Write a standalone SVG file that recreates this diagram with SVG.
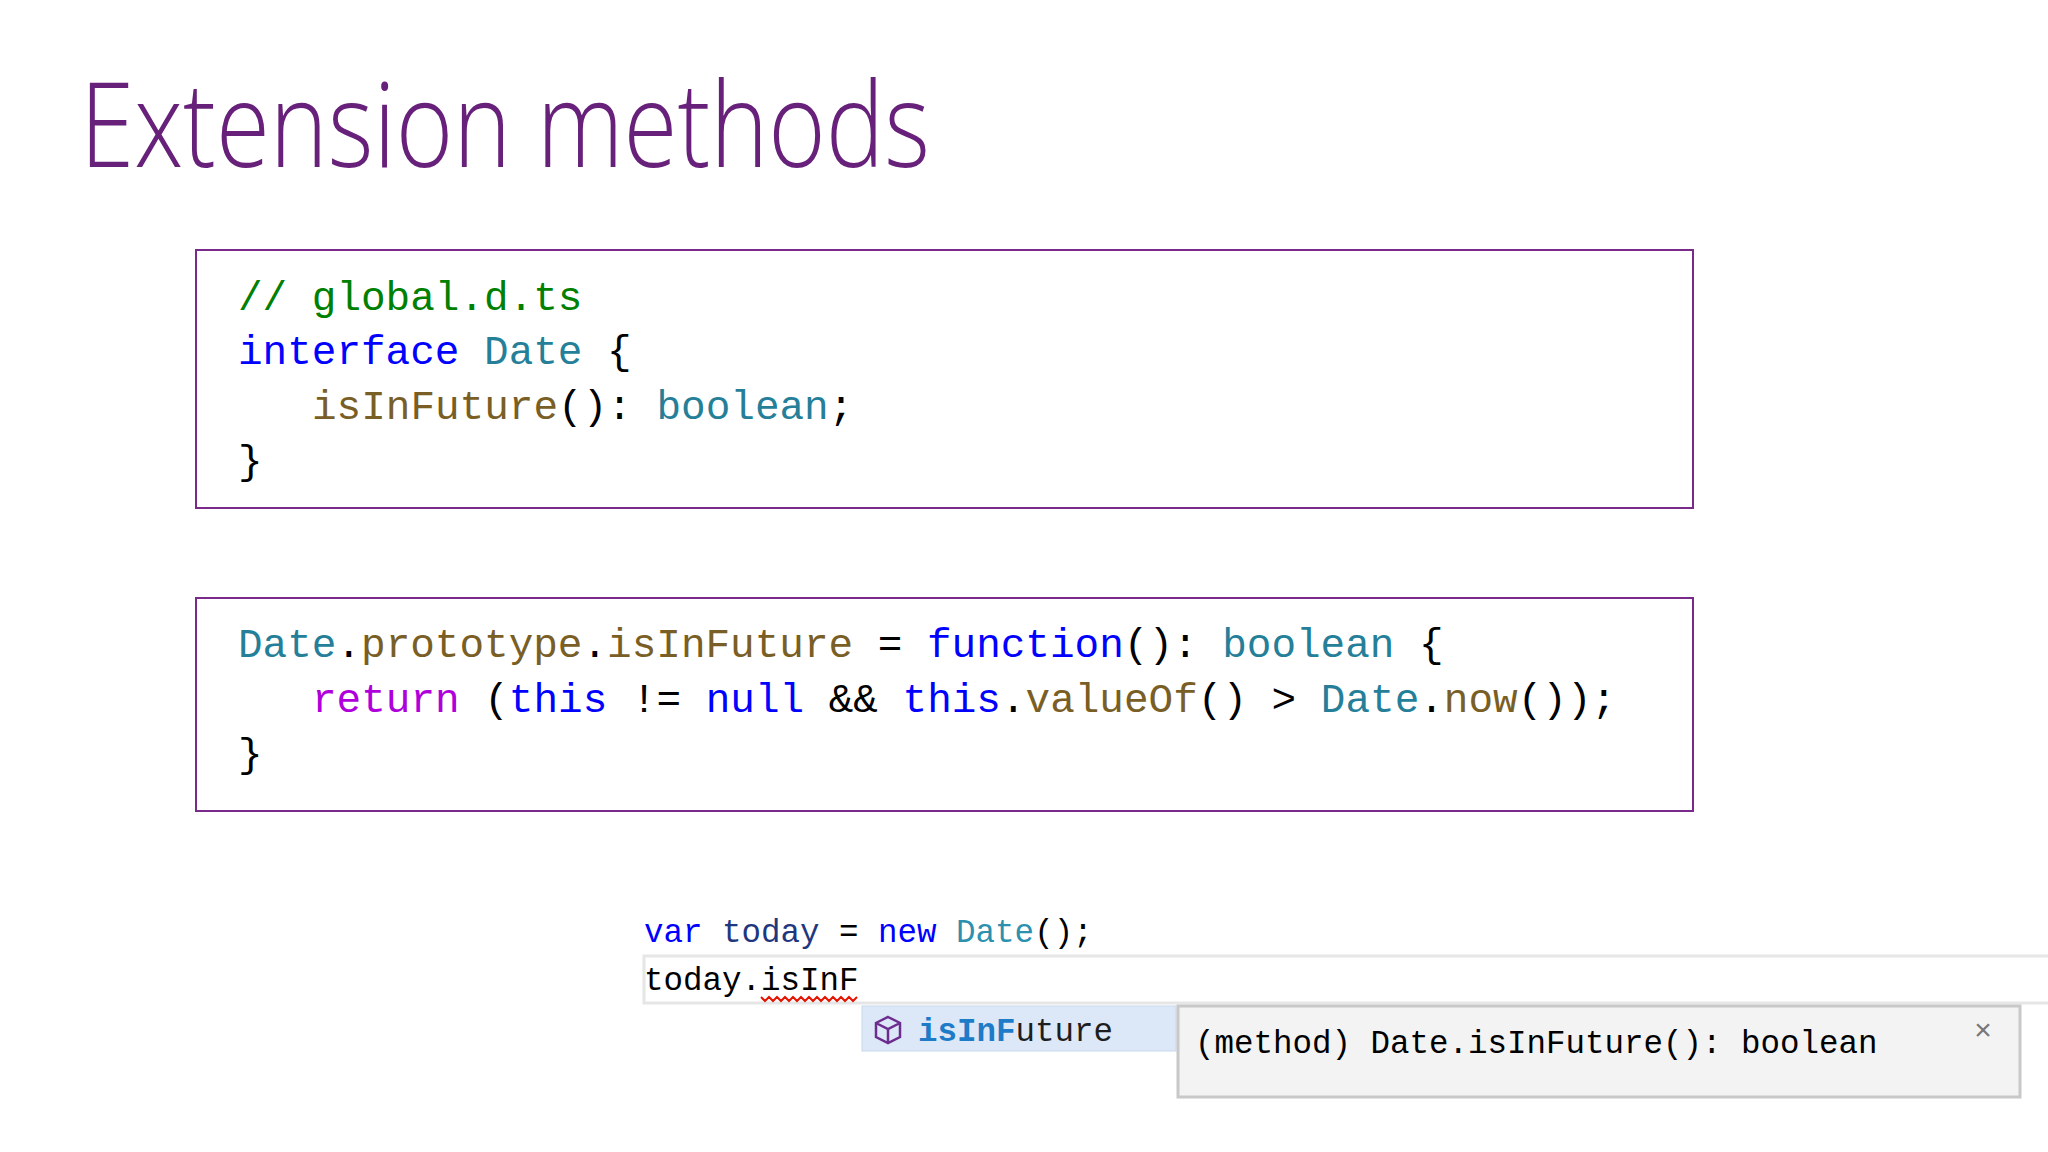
<svg xmlns="http://www.w3.org/2000/svg" width="2048" height="1152" viewBox="0 0 2048 1152">
<style>
.code{font-family:"Liberation Mono","DejaVu Sans Mono",monospace;font-size:41px;fill:#000;white-space:pre}
.sm{font-family:"Liberation Mono","DejaVu Sans Mono",monospace;font-size:32.5px;fill:#000;white-space:pre}
.box{fill:#fff;stroke:#7a2a8a;stroke-width:2}
.c{fill:#008000}.k{fill:#0000ff}.t{fill:#267f99}.m{fill:#795e26}.r{fill:#af00db}
</style>
<rect width="2048" height="1152" fill="#fff"/>
<text x="80" y="167" font-family="'Open Sans','Noto Sans',sans-serif" font-weight="300" font-size="118" fill="#68217a" textLength="850" lengthAdjust="spacingAndGlyphs">Extension methods</text>
<g id="box1">
<rect class="box" x="196" y="250" width="1497" height="258"/>
<text class="code" x="238" y="310"><tspan class="c">// global.d.ts</tspan></text>
<text class="code" x="238" y="364"><tspan class="k">interface</tspan> <tspan class="t">Date</tspan> {</text>
<text class="code" x="312" y="419"><tspan class="m">isInFuture</tspan>(): <tspan class="t">boolean</tspan>;</text>
<text class="code" x="238" y="474">}</text>
</g>
<g id="box2">
<rect class="box" x="196" y="598" width="1497" height="213"/>
<text class="code" x="238" y="657"><tspan class="t">Date</tspan>.<tspan class="m">prototype</tspan>.<tspan class="m">isInFuture</tspan> = <tspan class="k">function</tspan>(): <tspan class="t">boolean</tspan> {</text>
<text class="code" x="312" y="712"><tspan class="r">return</tspan> (<tspan class="k">this</tspan> != <tspan class="k">null</tspan> &amp;&amp; <tspan class="k">this</tspan>.<tspan class="m">valueOf</tspan>() &gt; <tspan class="t">Date</tspan>.<tspan class="m">now</tspan>());</text>
<text class="code" x="238" y="767">}</text>
</g>
<g id="editor">
<rect x="644" y="956" width="1410" height="47" fill="#fff" stroke="#e6e6e6" stroke-width="3"/>
<text class="sm" x="644" y="942"><tspan fill="#0000ff">var</tspan> <tspan fill="#1f377f">today</tspan> = <tspan fill="#0000ff">new</tspan> <tspan fill="#2b91af">Date</tspan>();</text>
<text class="sm" x="644" y="990" fill="#1f377f">today.isInF</text>
<path d="M761 997 l4 4 l4 -4 l4 4 l4 -4 l4 4 l4 -4 l4 4 l4 -4 l4 4 l4 -4 l4 4 l4 -4 l4 4 l4 -4 l4 4 l4 -4 l4 4 l4 -4 l4 4 l4 -4 l4 4 l4 -4 l4 4 l4 -4" fill="none" stroke="#e51400" stroke-width="2"/>
</g>
<g id="completion">
<rect x="862" y="1006" width="314" height="45" fill="#dce8f7" stroke="#c8d8ec"/>
<path d="M888 1017 l12 6 v14 l-12 6 l-12 -6 v-14 z M876 1023 l12 6 l12 -6 M888 1029 v14" fill="none" stroke="#6c2d8f" stroke-width="2.5"/>
<text class="sm" x="918" y="1041"><tspan fill="#1e7bc7" font-weight="bold">isInF</tspan><tspan fill="#1e1e1e">uture</tspan></text>
</g>
<g id="tooltip">
<rect x="1178" y="1006" width="842" height="91" fill="#f3f3f3" stroke="#c8c8c8" stroke-width="3"/>
<text class="sm" x="1195" y="1053" fill="#444">(method) Date.isInFuture(): boolean</text>
<text x="1983" y="1040" font-family="'Liberation Sans',sans-serif" font-size="30" fill="#777" text-anchor="middle">×</text>
</g>
</svg>
